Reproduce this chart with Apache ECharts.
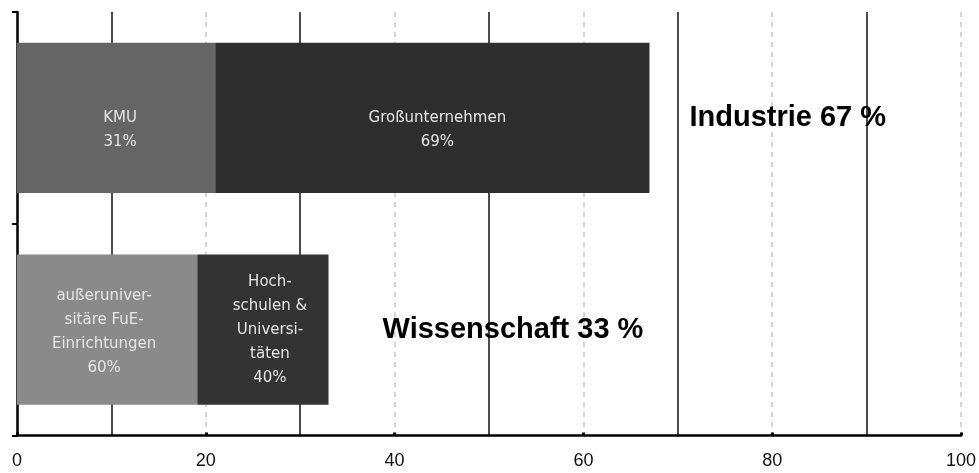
<!DOCTYPE html>
<html>
<head>
<meta charset="utf-8">
<script src="https://cdn.jsdelivr.net/npm/echarts@6/dist/echarts.min.js"></script>
<style>html,body{margin:0;padding:0;background:#fff}#c{width:979px;height:473px}</style>
</head>
<body>
<div id="c"></div>
<script>
// categories (top to bottom)
const categories = ['Industrie', 'Wissenschaft'];
// totals in percent
const totals = [67, 33];
// first (left) segment of each bar
const firstSegment = [21, 19.1];
// second (right) segment of each bar
const secondSegment = [46, 13.9];
// labelled shares inside the bars
const firstShare = [31, 60];
const secondShare = [69, 40];
const firstNames = ['KMU', 'außeruniver-\nsitäre FuE-\nEinrichtungen'];
const secondNames = ['Großunternehmen', 'Hoch-\nschulen &\nUniversi-\ntäten'];
const xTicks = [0, 20, 40, 60, 80, 100];

const firstColors = ['#656565', '#8a8a8a'];
const secondColors = ['#2e2e2e', '#333333'];
const firstOffsets = [[4, 12], [-3, 2]];
const secondOffsets = [[5, 12], [7, 0]];
const totalDistances = [40, 54];

const innerLabel = {
  show: true,
  position: 'inside',
  color: '#e6e6e6',
  fontFamily: 'DejaVu Sans',
  fontSize: 15,
  lineHeight: 24,
  align: 'center'
};

const chart = echarts.init(document.getElementById('c'), null, {renderer: 'canvas'});
chart.setOption({
  animation: false,
  backgroundColor: '#fff',
  grid: {left: 17, right: 17, top: 12, bottom: 37.5},
  xAxis: [{
    type: 'value', min: xTicks[0], max: xTicks[xTicks.length - 1], interval: 20,
    axisLine: {show: true, lineStyle: {color: '#000', width: 2.5}},
    axisTick: {show: true, inside: true, length: 3, lineStyle: {color: '#000', width: 3}},
    axisLabel: {fontFamily: 'Liberation Sans', fontSize: 18, color: '#111', margin: 17},
    splitLine: {show: true, showMinLine: false, lineStyle: {color: '#c8c8c8', type: [5, 5], width: 1.5}},
    z: 3
  }, {
    type: 'value', min: 0, max: 100, interval: 10, position: 'bottom',
    axisLine: {show: false}, axisTick: {show: false}, axisLabel: {show: false},
    splitLine: {show: true, lineStyle: {color: ['rgba(0,0,0,0)', '#111'], width: 1.5, type: 'solid'}}
  }],
  yAxis: {
    type: 'category', data: categories, inverse: true,
    axisLine: {show: true, lineStyle: {color: '#000', width: 2.5}},
    axisTick: {show: true, length: 5, lineStyle: {color: '#000', width: 2}},
    axisLabel: {show: false},
    splitLine: {show: false}
  },
  series: [{
    type: 'bar', stack: 'a', barCategoryGap: '29%',
    data: firstSegment.map((v, i) => ({
      value: v,
      itemStyle: {color: firstColors[i]},
      label: Object.assign({}, innerLabel, {
        offset: firstOffsets[i],
        formatter: firstNames[i] + '\n' + firstShare[i] + '%'
      })
    })),
    z: 4
  }, {
    type: 'bar', stack: 'a', barCategoryGap: '29%',
    data: secondSegment.map((v, i) => ({
      value: v,
      itemStyle: {color: secondColors[i]},
      label: Object.assign({}, innerLabel, {
        offset: secondOffsets[i],
        formatter: secondNames[i] + '\n' + secondShare[i] + '%'
      })
    })),
    z: 4
  }, {
    type: 'scatter', symbolSize: 0, silent: true,
    itemStyle: {opacity: 1},
    data: totals.map((v, i) => ({
      value: [v, categories[i]],
      label: {
        show: true, position: 'right', distance: totalDistances[i],
        formatter: categories[i] + ' ' + v + ' %',
        fontFamily: 'Liberation Sans', fontWeight: 'bold', fontSize: 29, color: '#000'
      }
    })),
    z: 5
  }]
});
</script>
</body>
</html>
